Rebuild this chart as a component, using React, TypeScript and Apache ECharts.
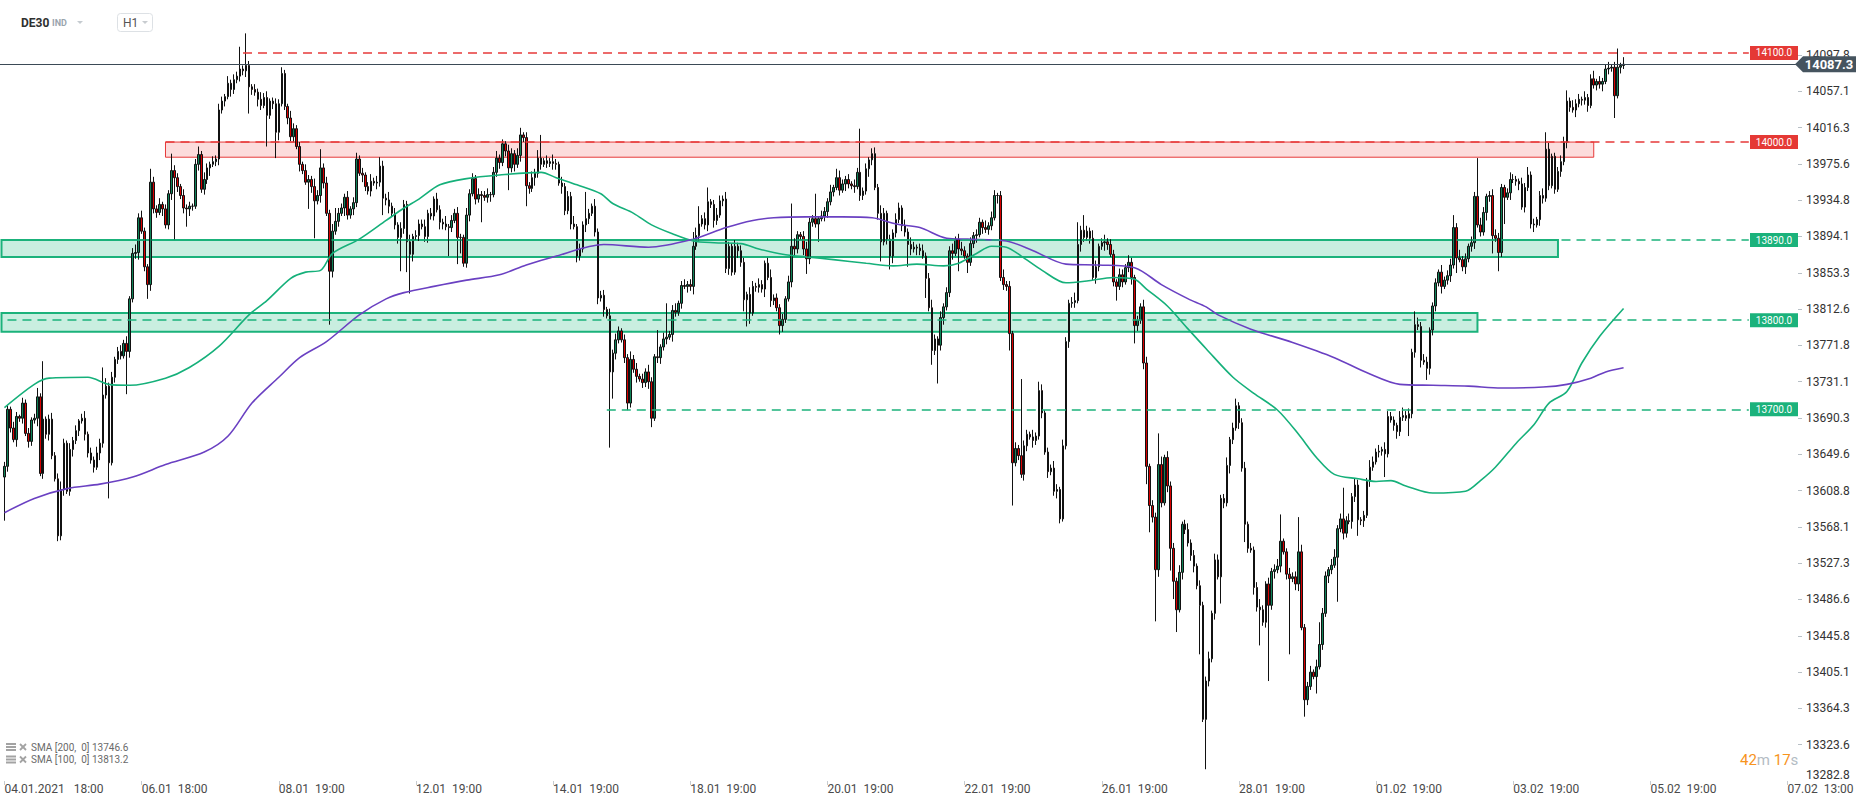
import React, { useEffect, useRef } from "react";
import * as echarts from "echarts";

// ---------- DATA ----------
const firstOpen = 13624;

// hourly closes, candle index 1..544
const closes = [
  13636,13700,13679,13666,13692,13690,13707,13673,13664,13688,13690,13714,13628,13689,13672,13689,13648,13622,13558,13610,
  13662,13608,13655,13665,13676,13687,13690,13672,13651,13643,13635,13651,13662,13716,13726,13640,13736,13756,13765,13760,
  13774,13765,13824,13875,13876,13915,13900,13860,13840,13955,13925,13921,13930,13925,13907,13942,13968,13960,13950,13940,
  13926,13925,13928,13928,13975,13986,13947,13958,13971,13975,13978,13981,14036,14046,14051,14066,14059,14070,14074,14082,
  14080,14086,14062,14059,14056,14048,14041,14050,14030,14046,14043,14011,14043,14077,14040,14027,14006,14015,13995,13975,
  13968,13955,13958,13950,13934,13940,13971,13954,13920,13855,13900,13911,13920,13926,13938,13918,13925,13932,13981,13965,
  13963,13950,13945,13956,13954,13955,13973,13937,13935,13928,13920,13907,13893,13903,13930,13888,13874,13894,13895,13908,
  13905,13894,13920,13917,13936,13924,13910,13908,13905,13904,13912,13920,13893,13893,13864,13918,13942,13959,13936,13941,
  13940,13938,13941,13941,13966,13982,13977,13998,13990,13971,13987,13975,13985,14008,14005,13951,13948,13960,13965,13982,
  13975,13979,13976,13978,13976,13975,13954,13950,13923,13939,13908,13905,13872,13880,13907,13914,13920,13928,13899,13825,
  13828,13812,13805,13742,13763,13778,13788,13778,13758,13707,13756,13745,13737,13734,13730,13742,13731,13690,13759,13758,
  13770,13779,13781,13784,13811,13809,13819,13839,13838,13840,13838,13883,13895,13908,13914,13907,13933,13930,13912,13918,
  13934,13936,13858,13883,13854,13883,13878,13865,13823,13829,13808,13838,13837,13840,13835,13864,13848,13822,13825,13814,
  13794,13801,13824,13843,13883,13880,13896,13894,13880,13869,13910,13914,13908,13914,13917,13922,13933,13944,13949,13960,
  13946,13953,13958,13953,13951,13950,13966,13940,13945,13970,13980,13987,13949,13920,13888,13920,13891,13872,13898,13913,
  13926,13906,13899,13885,13880,13882,13881,13878,13872,13847,13814,13766,13779,13772,13803,13815,13831,13878,13875,13891,
  13880,13878,13872,13865,13886,13895,13896,13910,13904,13902,13906,13915,13940,13940,13848,13840,13838,13785,13640,13656,
  13648,13627,13659,13672,13669,13665,13670,13721,13696,13652,13630,13634,13608,13610,13577,13659,13776,13819,13820,13822,
  13885,13901,13893,13900,13892,13848,13860,13883,13887,13888,13885,13874,13843,13838,13851,13843,13859,13865,13848,13794,
  13800,13815,13752,13636,13592,13579,13520,13638,13595,13646,13614,13544,13507,13475,13517,13571,13565,13550,13536,13524,
  13502,13480,13352,13395,13420,13471,13531,13512,13600,13595,13637,13666,13679,13704,13685,13634,13571,13544,13542,13500,
  13478,13475,13461,13504,13480,13518,13520,13524,13552,13540,13515,13510,13512,13504,13540,13455,13374,13389,13405,13400,
  13411,13436,13471,13513,13520,13525,13534,13566,13577,13561,13575,13574,13602,13615,13576,13575,13581,13619,13635,13641,
  13652,13653,13655,13650,13692,13688,13682,13675,13691,13693,13690,13695,13764,13795,13793,13755,13753,13746,13789,13816,
  13842,13854,13838,13845,13850,13862,13904,13870,13868,13860,13869,13883,13887,13939,13907,13899,13921,13939,13940,13895,
  13892,13876,13949,13938,13943,13958,13958,13956,13953,13927,13949,13963,13908,13907,13913,13940,13937,13992,13951,13984,
  13947,13967,13978,14000,14046,14039,14036,14043,14048,14047,14050,14041,14071,14064,14068,14065,14068,14082,14083,14084,
  14052,14084,14086,14087.3,
];

// typical upper / lower wick lengths (points) per candle
const upWick = [
  5,4,3,7,5,2,6,4,6,3,5,8,4,7,3,5,7,4,6,9, 5,3,7,4,6,2,5,8,3,6,4,7,5,3,9,4,6,3,5,7,
  4,8,3,6,9,5,8,4,3,6,6,4,7,3,5,4,8,6,5,3, 7,4,5,3,6,9,4,8,5,3,6,4,7,5,3,8,4,6,5,7,
  4,6,5,3,6,4,8,5,7,3,4,6,5,7,4,3,8,6,4,5, 3,7,5,4,9,6,3,5,7,4,8,3,6,5,4,7,3,6,8,4,
  6,3,5,8,4,7,3,6,5,9,4,6,3,7,5,4,8,3,6,5, 5,8,4,6,3,7,5,4,9,3,6,5,7,4,3,8,5,6,4,7,
  4,5,7,3,6,8,4,5,3,7,6,4,8,5,3,6,4,7,5,9, 7,3,6,4,8,5,3,7,4,6,5,9,3,6,4,7,5,3,8,4,
  5,6,3,8,4,7,5,3,6,4,9,5,7,3,6,4,8,5,3,6, 3,7,5,4,6,8,3,5,7,4,6,3,9,5,4,7,6,3,5,8,
  6,4,8,5,3,7,4,6,5,3,8,6,4,7,5,3,6,9,4,5, 4,6,3,7,5,9,4,3,6,8,5,4,7,3,6,5,4,8,3,7,
  8,5,4,6,3,7,5,8,4,6,3,5,7,4,9,6,3,5,4,7, 5,3,7,4,8,6,3,5,7,4,6,9,5,3,7,4,6,5,8,3,
  6,8,5,3,7,4,6,5,3,8,4,7,6,3,5,9,4,6,3,7, 4,7,6,5,3,8,4,6,7,3,5,4,8,6,3,7,5,4,6,9,
  7,5,3,6,4,9,7,3,5,8,4,6,5,3,7,6,4,8,5,3, 5,4,8,7,3,6,5,4,9,3,7,5,6,4,8,3,5,7,4,6,
  3,6,4,5,8,3,7,6,4,5,9,3,6,8,4,5,7,3,6,4, 6,9,5,3,7,4,6,8,5,3,4,7,5,6,3,8,4,5,7,3,
  8,4,6,5,3,7,9,4,6,3,5,8,4,7,6,3,5,4,8,6, 4,7,3,8,6,5,4,3,7,9,5,6,4,3,8,5,7,6,3,4,
  5,3,8,4,6,7,3,5,9,4,6,3,7,5,4,8,6,3,5,7, 7,6,4,3,5,8,6,4,3,7,5,9,4,6,3,5,8,4,7,3,
  4,5,7,6,3,4,8,5,6,3,7,4,5,9,3,6,4,5,7,3, 6,4,3,5,
];
const dnWick = [
  4,6,5,3,8,4,6,3,7,5,4,9,3,6,5,7,4,3,6,5, 7,3,5,8,4,6,3,7,5,4,6,3,8,5,4,7,3,6,5,4,
  3,5,7,4,6,8,3,5,4,7,5,6,3,8,4,5,7,3,6,4, 6,4,8,5,3,7,4,6,5,9,3,5,7,4,6,3,8,5,4,6,
  5,7,3,6,4,8,5,3,7,4,6,5,9,3,4,7,5,6,3,8, 4,3,6,7,5,4,8,6,3,5,7,4,6,3,9,5,4,7,5,3,
  8,5,4,6,3,7,5,4,6,8,3,5,7,4,6,5,3,8,4,6, 3,6,7,4,5,3,8,6,4,7,5,3,6,9,4,5,7,3,6,4,
  5,4,6,8,3,5,7,4,6,3,5,8,4,7,5,3,6,4,9,5, 6,3,5,4,7,6,3,8,5,4,6,3,7,5,4,8,6,3,5,7,
  4,8,3,6,5,7,4,3,6,9,5,4,7,3,6,5,8,4,3,6, 7,4,6,3,8,5,4,6,3,7,5,9,4,6,3,5,7,4,8,5,
  3,6,5,7,4,3,8,5,6,4,7,3,5,6,4,9,3,7,5,4, 5,7,4,3,6,8,5,4,7,3,6,5,4,8,3,6,7,4,5,3,
  6,3,8,5,4,7,3,6,5,4,9,6,3,7,5,4,6,3,8,5, 4,6,5,3,7,4,8,5,3,6,4,7,5,3,6,8,4,5,7,3,
  7,5,3,6,4,5,8,3,7,4,6,5,3,9,4,6,5,7,3,4, 5,4,7,6,3,8,5,4,6,3,7,4,5,8,6,3,4,7,5,6,
  3,8,5,4,6,3,7,5,4,9,6,3,5,7,4,6,3,5,8,4, 6,4,7,5,3,6,4,8,5,3,7,6,4,5,3,8,5,4,6,7,
  4,5,3,8,6,4,7,3,5,6,4,9,5,3,7,4,6,5,3,8, 5,7,4,6,3,5,8,4,7,3,6,5,4,7,8,3,5,6,4,3,
  7,3,6,4,8,5,3,6,4,7,5,3,8,6,4,5,7,3,6,4, 3,6,5,7,4,3,6,8,5,4,3,7,5,6,4,8,3,5,7,6,
  6,4,8,3,5,7,4,6,3,5,8,4,6,7,3,5,4,9,6,3, 4,7,5,6,3,8,4,5,7,3,6,4,5,8,3,7,6,4,5,3,
  5,3,6,4,7,5,3,8,4,6,5,7,3,4,6,5,8,3,6,4, 5,3,7,4,
];

// long wicks: [candle index, points]
const longUp = [
  [12,10],[14,65],[34,31],[47,8],[50,15],[57,19],[66,9],[80,25],[82,36],[94,7],[107,21],[112,15],[119,7],[127,10],
  [158,6],[174,8],[181,26],[196,30],[220,30],[223,38],[232,16],[234,20],[237,16],[265,48],[273,28],[280,10],[288,49],
  [292,6],[301,6],[342,86],[348,10],[361,25],[363,17],[388,35],[429,30],[435,39],[442,25],[450,35],[474,15],[487,14],
  [495,43],[518,19],[525,12],[542,21],[544,8],
];
const longDn = [
  [1,49],[19,6],[36,40],[42,48],[49,16],[58,70],[62,20],[83,30],[89,35],[92,29],[103,30],[105,42],[110,60],[128,19],
  [134,38],[136,34],[137,44],[150,32],[153,30],[154,18],[161,30],[170,25],[176,23],[204,85],[205,30],[210,8],[218,10],
  [249,13],[250,30],[251,12],[261,10],[270,17],[274,20],[295,22],[298,15],[304,25],[310,22],[312,16],[314,43],[321,25],
  [324,12],[338,19],[339,48],[355,5],[374,16],[380,20],[384,20],[385,30],[387,58],[392,25],[393,20],[394,25],[402,55],
  [404,56],[409,30],[417,20],[422,40],[425,85],[432,85],[437,19],[441,19],[448,50],[455,18],[464,26],[472,20],[478,13],
  [488,17],[500,20],[502,21],[504,30],[541,25],
];

// moving averages (candle index, value)
const sma100Idx = [1,11,16,29,36,43,55,63,73,83,89,97,102,107,111,120,129,135,140,147,156,167,181,186,193,201,205,212,218,
  225,232,239,248,254,262,270,279,290,299,307,316,321,327,332,337,342,349,357,364,373,380,384,391,398,404,413,420,428,
  435,441,447,455,461,466,471,480,491,496,501,508,514,519,525,530,536,544];
const sma100Val = [13702,13728,13735,13736,13728,13727,13735,13747,13771,13806,13822,13847,13854,13856,13875,13891,13912,
  13926,13936,13952,13959,13963,13966,13960,13952,13942,13931,13920,13907,13897,13889,13887,13886,13880,13874,13871,
  13868,13864,13861,13863,13861,13864,13875,13883,13882,13872,13856,13842,13844,13848,13846,13835,13816,13790,13768,
  13736,13718,13699,13672,13646,13627,13622,13619,13620,13614,13606,13608,13620,13635,13662,13683,13707,13720,13752,
  13782,13813.2];
const sma200Idx = [1,11,22,33,44,55,68,76,84,93,100,109,120,129,135,145,156,167,176,185,202,217,232,243,252,259,270,282,
  292,300,308,317,324,337,346,357,368,380,389,398,404,408,419,433,447,458,469,480,492,503,517,525,533,538,544];
const sma200Val = [13584,13600,13611,13616,13624,13638,13652,13670,13707,13736,13758,13776,13806,13824,13831,13838,13845,
  13851,13862,13871,13885,13882,13891,13904,13912,13915,13916,13916,13915,13908,13904,13892,13891,13889,13878,13863,
  13862,13859,13840,13824,13815,13806,13790,13775,13758,13741,13728,13727,13726,13724,13725,13728,13735,13742,13746.6];

const categoryCount = 603;
const xTickIdx = [1,47,93,139,185,231,277,323,369,415,461,507,553,599];
const NB = "\u00a0";
const xTickLabels = [
  `04.01.2021${NB}${NB}${NB}18:00`, `06.01${NB}${NB}18:00`, `08.01${NB}${NB}19:00`, `12.01${NB}${NB}19:00`,
  `14.01${NB}${NB}19:00`, `18.01${NB}${NB}19:00`, `20.01${NB}${NB}19:00`, `22.01${NB}${NB}19:00`,
  `26.01${NB}${NB}19:00`, `28.01${NB}${NB}19:00`, `01.02${NB}${NB}19:00`, `03.02${NB}${NB}19:00`,
  `05.02${NB}${NB}19:00`, `07.02${NB}${NB}13:00`,
];

const yMin = 13282.8;
const yMax = 14131.4;
const yStep = 40.75;

const lastPrice = 14087.3;
const levelValues = [14100, 14000, 13890, 13800, 13700];
const levelLabels = ["14100.0", "14000.0", "13890.0", "13800.0", "13700.0"];
const levelStart = [81, 55, 0, 2, 203];
const levelIsRed = [true, true, false, false, false];
const levelEnd = 586;

const zoneTop = [14000, 13890, 13808];
const zoneBottom = [13983, 13871, 13787];
const zoneFrom = [55, 0, 0];
const zoneTo = [534, 522, 495];
const zoneIsRed = [true, false, false];

const smaLegend = [`SMA [200,${NB}${NB}0] 13746.6`, `SMA [100,${NB}${NB}0] 13813.2`];

// ---------- STYLE ----------
const RED = "#e63a3a";
const GREEN = "#1bb27b";
const FONT = "Roboto, 'Open Sans', Arial, sans-serif";

const fmt = (v: number) => (Math.round(v * 10 + 1e-6) / 10).toFixed(1);

export default function App() {
  const ref = useRef<HTMLDivElement>(null);

  useEffect(() => {
    if (!ref.current) return;
    const chart = echarts.init(ref.current, null, { renderer: "svg" });

    const upMap = new Map<number, number>(longUp.map(([i, v]) => [i, v]));
    const dnMap = new Map<number, number>(longDn.map(([i, v]) => [i, v]));
    const candles: any[] = [["-", "-", "-", "-"]];
    let prev = firstOpen;
    closes.forEach((c, k) => {
      const i = k + 1;
      const o = prev;
      const u = upMap.has(i) ? (upMap.get(i) as number) : upWick[k];
      const d = dnMap.has(i) ? (dnMap.get(i) as number) : dnWick[k];
      candles.push([o, c, Math.min(o, c) - d, Math.max(o, c) + u]);
      prev = c;
    });

    const cats = Array.from({ length: categoryCount }, (_, i) => String(i));
    const tickSet = new Set(xTickIdx);
    const tickLabel = new Map<number, string>(xTickIdx.map((i, k) => [i, xTickLabels[k]]));

    const markLineData: any[] = levelValues.map((v, k) => [
      {
        coord: [levelStart[k], v],
        lineStyle: { color: levelIsRed[k] ? RED : GREEN, type: [9, 6], width: 1.5 },
      },
      { coord: [levelEnd, v] },
    ]);
    markLineData.push({ yAxis: lastPrice, lineStyle: { color: "#3b4a56", type: "solid", width: 1 } });

    const markAreaData: any[] = zoneTop.map((t, k) => [
      {
        coord: [zoneFrom[k], t],
        itemStyle: zoneIsRed[k]
          ? { color: "rgba(240,80,80,0.2)", borderColor: RED, borderWidth: 1 }
          : { color: "rgba(30,185,125,0.24)", borderColor: GREEN, borderWidth: 2 },
      },
      { coord: [zoneTo[k], zoneBottom[k]] },
    ]);

    chart.setOption({
      animation: false,
      textStyle: { fontFamily: FONT },
      grid: { left: 0, right: 68, top: 25, bottom: 24 },
      xAxis: {
        type: "category",
        data: cats,
        boundaryGap: true,
        axisLine: { show: false },
        axisTick: {
          show: true,
          alignWithLabel: true,
          interval: (i: number) => tickSet.has(i),
          length: 4,
          lineStyle: { color: "#c6cbd0" },
        },
        axisLabel: {
          interval: (i: number) => tickSet.has(i),
          formatter: (_v: string, i: number) => tickLabel.get(i) || "",
          align: "left",
          color: "#4a4a4a",
          fontSize: 12,
          margin: 2,
        },
        splitLine: { show: false },
      },
      yAxis: {
        type: "value",
        position: "right",
        min: yMin,
        max: yMax,
        interval: yStep,
        axisLine: { show: false },
        axisTick: { show: true, length: 4, lineStyle: { color: "#b8c0c6" } },
        axisLabel: {
          color: "#333",
          fontSize: 12,
          margin: 8,
          showMaxLabel: false,
          showMinLabel: false,
          formatter: (v: number) => fmt(v),
        },
        splitLine: { show: false },
      },
      series: [
        {
          type: "candlestick",
          data: candles,
          barWidth: 2,
          itemStyle: {
            color: "#0f8258",
            color0: "#d80000",
            borderColor: "#111",
            borderColor0: "#111",
            borderWidth: 1,
          },
          markArea: { silent: true, data: markAreaData },
          markLine: {
            silent: true,
            symbol: ["none", "none"],
            label: { show: false },
            data: markLineData,
          },
        },
        {
          type: "line",
          name: "SMA100",
          data: sma100Idx.map((i, k) => [i, sma100Val[k]]),
          showSymbol: false,
          smooth: 0.3,
          lineStyle: { color: "#15b07a", width: 1.6 },
          z: 3,
        },
        {
          type: "line",
          name: "SMA200",
          data: sma200Idx.map((i, k) => [i, sma200Val[k]]),
          showSymbol: false,
          smooth: 0.3,
          lineStyle: { color: "#6a40c2", width: 1.6 },
          z: 3,
        },
      ],
    });

    const py = (v: number) => chart.convertToPixel({ yAxisIndex: 0 }, v) as number;
    const g: any[] = [];

    // bottom price label, lifted above the time axis as in the original
    g.push({
      type: "text",
      z: 100,
      silent: true,
      x: 1806,
      y: py(yMin) - 6,
      style: { text: fmt(yMin), fill: "#333", fontSize: 12, fontFamily: FONT, verticalAlign: "middle" },
    });

    // level label boxes on the right
    levelValues.forEach((v, k) => {
      const y = py(v);
      g.push({
        type: "rect",
        z: 100,
        silent: true,
        shape: { x: 1750, y: y - 7, width: 48, height: 14 },
        style: { fill: levelIsRed[k] ? "#e53935" : "#1bb27b" },
      });
      g.push({
        type: "text",
        z: 101,
        silent: true,
        x: 1774,
        y: y,
        style: {
          text: levelLabels[k],
          fill: "#fff",
          fontSize: 10,
          fontFamily: FONT,
          align: "center",
          verticalAlign: "middle",
        },
      });
    });

    // current price tag
    const yp = py(lastPrice);
    g.push({
      type: "polygon",
      z: 100,
      silent: true,
      shape: { points: [[1795, yp], [1803, yp - 8], [1856, yp - 8], [1856, yp + 8], [1803, yp + 8]] },
      style: { fill: "#46545f" },
    });
    g.push({
      type: "text",
      z: 101,
      silent: true,
      x: 1829,
      y: yp,
      style: {
        text: fmt(lastPrice),
        fill: "#fff",
        fontSize: 13,
        fontWeight: "bold",
        fontFamily: FONT,
        align: "center",
        verticalAlign: "middle",
      },
    });

    // header
    g.push({ type: "text", z: 100, silent: true, x: 21, y: 23,
      style: { text: "DE30", fill: "#2f2f2f", fontSize: 12, fontWeight: "bold", fontFamily: FONT, verticalAlign: "middle" } });
    g.push({ type: "text", z: 100, silent: true, x: 52, y: 23,
      style: { text: "IND", fill: "#9aa4ad", fontSize: 9, fontWeight: "bold", fontFamily: FONT, verticalAlign: "middle" } });
    g.push({ type: "polygon", z: 100, silent: true, shape: { points: [[77, 21], [83, 21], [80, 24]] }, style: { fill: "#c5cbd0" } });
    g.push({ type: "rect", z: 100, silent: true, shape: { x: 117.5, y: 13.5, width: 35, height: 18, r: 3 },
      style: { fill: "#fff", stroke: "#dde1e5", lineWidth: 1 } });
    g.push({ type: "text", z: 101, silent: true, x: 123, y: 23,
      style: { text: "H1", fill: "#555", fontSize: 12, fontFamily: FONT, verticalAlign: "middle" } });
    g.push({ type: "polygon", z: 101, silent: true, shape: { points: [[142, 21], [148, 21], [145, 24]] }, style: { fill: "#c8ccd0" } });

    // SMA legend bottom-left
    smaLegend.forEach((t, k) => {
      const y = 747 + k * 12.5;
      [-3, 0, 3].forEach((dy) =>
        g.push({ type: "rect", z: 100, silent: true, shape: { x: 6, y: y + dy - 1, width: 10, height: 2 }, style: { fill: "#a3a3a3" } })
      );
      g.push({ type: "line", z: 100, silent: true, shape: { x1: 20, y1: y - 3, x2: 26, y2: y + 3 }, style: { stroke: "#a3a3a3", lineWidth: 1.8 } });
      g.push({ type: "line", z: 100, silent: true, shape: { x1: 20, y1: y + 3, x2: 26, y2: y - 3 }, style: { stroke: "#a3a3a3", lineWidth: 1.8 } });
      g.push({ type: "text", z: 100, silent: true, x: 31, y: y,
        style: { text: t, fill: "#6a6a6a", fontSize: 10, fontFamily: FONT, verticalAlign: "middle" } });
    });

    // candle timer
    g.push({
      type: "text",
      z: 100,
      silent: true,
      x: 1740,
      y: 760,
      style: {
        text: "{o|42}{g|m} {o|17}{g|s}",
        verticalAlign: "middle",
        fontSize: 15,
        fontFamily: FONT,
        rich: {
          o: { fill: "#f7941d", fontSize: 15, fontFamily: FONT },
          g: { fill: "#b3bcc4", fontSize: 15, fontFamily: FONT },
        },
      },
    });

    chart.setOption({ graphic: g });

    return () => chart.dispose();
  }, []);

  return (
    <div
      ref={ref}
      style={{ position: "fixed", left: 0, top: 0, width: 1866, height: 805, background: "#fff" }}
    />
  );
}
